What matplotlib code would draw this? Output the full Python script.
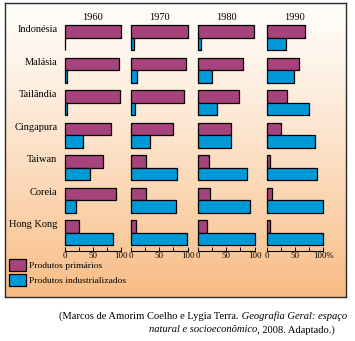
import numpy as np
import matplotlib
matplotlib.use("Agg")
import matplotlib.pyplot as plt
from matplotlib.patches import Patch

# -----------------------------------------------
# DATA (percent of exports)
years = ['1960', '1970', '1980', '1990']
countries = ['Indonésia', 'Malásia', 'Tailândia', 'Cingapura',
             'Taiwan', 'Coreia', 'Hong Kong']

prim_1960 = [100, 97, 99, 82, 68, 92, 25]
prim_1970 = [100, 98, 93, 74, 27, 27, 9]
prim_1980 = [99, 80, 73, 59, 19, 22, 16]
prim_1990 = [68, 57, 36, 25, 7, 9, 7]

ind_1960 = [0.3, 5, 5, 32, 45, 21, 86]
ind_1970 = [6, 11, 7, 33, 81, 80, 99]
ind_1980 = [6, 24, 34, 59, 87, 92, 100]
ind_1990 = [34, 48, 75, 85, 90, 100, 100]

primarios = [prim_1960, prim_1970, prim_1980, prim_1990]
industrializados = [ind_1960, ind_1970, ind_1980, ind_1990]

# -----------------------------------------------
# STYLE
PURPLE = '#A6437C'
BLUE = '#0099D8'
W, H = 355, 341
plt.rcParams['font.family'] = ['Liberation Serif', 'DejaVu Serif']


def px(x0, y0, w, h):
  # rectangle given in pixels from the top-left corner -> figure fraction
  return [x0 / W, 1 - (y0 + h) / H, w / W, h / H]


fig = plt.figure(figsize=(W / 100, H / 100), dpi=100)

# background panel with vertical gradient
bg = fig.add_axes(px(5, 3, 341, 294))
grad = np.linspace(0, 1, 256)[:, None, None]
c_top = np.array([255, 253, 250]) / 255
c_bot = np.array([248, 188, 132]) / 255
img = c_top + (c_bot - c_top) * grad ** 1.2
bg.imshow(img, aspect='auto', extent=[0, 1, 0, 1])
bg.set_xticks([])
bg.set_yticks([])
for s in bg.spines.values():
  s.set_color('#2a2a2a')
  s.set_linewidth(1.0)

# -----------------------------------------------
# PANELS
lefts = [64.5, 131, 198, 266.5]
pw = 56.5
top = 22
ph = 229
pitch = 32.5
hb = 12.5 / pitch
rows = np.arange(len(countries))

for k, yr in enumerate(years):
  ax = fig.add_axes(px(lefts[k], top, pw, ph))
  ax.set_facecolor('none')
  b1 = ax.barh(rows, primarios[k], height=hb, align='edge', color=PURPLE,
               edgecolor='black', linewidth=0.9)
  b2 = ax.barh(rows + hb, industrializados[k], height=hb, align='edge',
               color=BLUE, edgecolor='black', linewidth=0.9)
  for b in list(b1) + list(b2):
    b.set_clip_on(False)
  ax.set_xlim(0, 100)
  ax.set_ylim(ph / pitch - 3 / pitch, -3 / pitch)
  for s in ['left', 'top', 'right']:
    ax.spines[s].set_visible(False)
  ax.spines['bottom'].set_linewidth(0.8)
  ax.set_xticks([0, 50, 100])
  ax.set_xticklabels(['0', '50', '100%' if k == 3 else '100'])
  ax.set_xticks([25, 75], minor=True)
  ax.tick_params(axis='x', which='both', direction='in', length=3,
                 width=0.7, labelsize=6.3, pad=1)
  if k == 0:
    ax.set_yticks(rows + 0.12)
    ax.set_yticklabels(countries, fontsize=7.5)
    ax.tick_params(axis='y', length=0, pad=5)
  else:
    ax.set_yticks([])
  ax.text(0.5, 1 + 5 / ph, yr, transform=ax.transAxes, ha='center',
          va='center', fontsize=7.5)

# -----------------------------------------------
# LEGEND
handles = [Patch(facecolor=PURPLE, edgecolor='black', linewidth=0.9),
           Patch(facecolor=BLUE, edgecolor='black', linewidth=0.9)]
fig.legend(handles, ['Produtos primários', 'Produtos industrializados'],
           loc='upper left', bbox_to_anchor=(9 / W, 1 - 259 / H),
           frameon=False, fontsize=6.8, handlelength=1.85, handleheight=1.55,
           labelspacing=0.35, handletextpad=0.3, borderpad=0,
           borderaxespad=0)

# -----------------------------------------------
# SOURCE (mixed normal / italic), right-aligned lines
renderer = fig.canvas.get_renderer()


def put_right(xr, y, parts):
  # measure pieces first, then place them so the line ends at xr
  widths = []
  for txt, style in parts:
    t = fig.text(0, 0, txt, style=style, fontsize=7.6)
    widths.append(t.get_window_extent(renderer).width)
    t.remove()
  x = xr - sum(widths)
  for (txt, style), w in zip(parts, widths):
    fig.text(x / W, 1 - y / H, txt, style=style, fontsize=7.6,
             va='center', ha='left')
    x += w


put_right(347, 316, [('(Marcos de Amorim Coelho e Lygia Terra.', 'normal'),
                     (' Geografia Geral: espaço', 'italic')])
put_right(335, 330, [('natural e socioeconômico', 'italic'),
                     (', 2008. Adaptado.)', 'normal')])

fig.savefig('out.png', dpi=100)
